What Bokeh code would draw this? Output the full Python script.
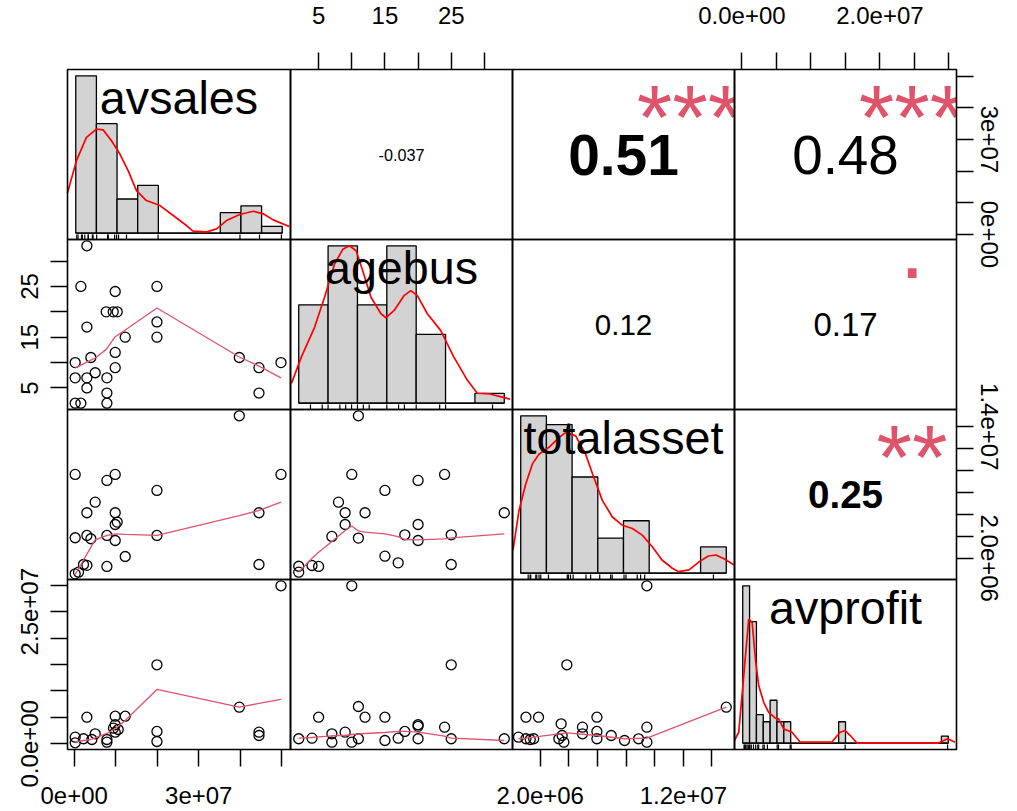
import numpy as np
from bokeh.plotting import figure
from bokeh.models import Range1d, LinearAxis, FixedTicker
from bokeh.core.properties import value
from bokeh.embed import file_html
from bokeh.resources import INLINE

M = 1_000_000

var_names = ["avsales", "agebus", "totalasset", "avprofit"]

# data range (min, max) of each variable
avsales_lim = (0.38 * M, 50.1 * M)
agebus_lim = (2, 33)
totalasset_lim = (0.635 * M, 15.0 * M)
avprofit_lim = (0.11 * M, 29.9 * M)

# observed distinct values (rug marks)
avsales_vals = [0.24, 0.56, 1.39, 1.61, 2.18, 2.98, 3.06, 4.02, 4.19, 5.06, 7.71, 7.88, 9.4, 9.88,
                10.36, 12.29, 19.93, 39.76, 44.5, 49.8]
agebus_vals = [2, 4, 5, 7, 8, 9, 10, 11, 12, 15, 17, 18, 20, 24, 25, 33]
totalasset_vals = [0.58, 0.73, 0.78, 1.17, 1.25, 1.43, 1.56, 2.16, 3.62, 3.71, 3.87, 4.08, 5.08, 5.44,
                   6.15, 7.0, 7.12, 8.04, 8.19, 9.07, 9.33, 9.65, 15.0]
avprofit_vals = [0.19, 0.3, 0.43, 0.62, 0.81, 0.95, 1.06, 1.25, 1.57, 1.89, 2.2, 2.33, 2.95, 3.14, 3.6,
                 5.03, 5.22, 6.93, 7.06, 14.95, 29.9]

# histograms (breaks start, step) and counts per bin
avsales_breaks = (0, 5)
avsales_counts = [23, 16, 5, 7, 0, 0, 0, 3, 4, 1]
agebus_breaks = (0, 5)
agebus_counts = [10, 16, 10, 16, 7, 0, 1]
totalasset_breaks = (0, 2)
totalasset_counts = [18, 17, 11, 4, 6, 0, 0, 3]
avprofit_breaks = (0, 1)
avprofit_counts = [22, 17, 4, 3, 6, 3, 3, 0, 0, 0, 0, 0, 0, 0, 3,
                   0, 0, 0, 0, 0, 0, 0, 0, 0, 0, 0, 0, 0, 0, 1]

# density curves (x, height in count units)
avsales_dens_x = [-2.0, 0.17, 2.59, 5.02, 6.62, 8.65, 10.66, 12.68, 14.7, 17.1, 20.4, 23.6, 26.8, 28.4,
                  31.7, 34.1, 36.5, 39.7, 42.97, 45.4, 47.8, 51.7]
avsales_dens_y = [5.9, 10.6, 14.0, 15.2, 15.1, 13.5, 11.6, 9.15, 6.23, 4.77, 4.04, 2.58, 1.12, 0.29,
                  0.2, 0.64, 1.85, 2.73, 3.21, 2.83, 1.95, 0.98]
agebus_dens_x = [-1.24, 0.46, 2.71, 4.4, 6.1, 7.52, 8.64, 9.77, 10.9, 12.3, 14.0, 14.85, 16.25, 17.95,
                 19.08, 20.2, 21.9, 24.16, 26.4, 28.7, 30.4, 32.6, 34.3, 36.0]
agebus_dens_y = [2.02, 4.71, 7.74, 10.77, 14.14, 15.66, 16.0, 15.5, 13.46, 10.77, 9.09, 8.69, 9.43, 10.94,
                 11.44, 10.94, 9.09, 7.4, 4.71, 2.35, 1.01, 0.94, 0.67, 0.4]
totalasset_dens_x = [-0.6, -0.13, 0.39, 0.91, 1.42, 2.2, 2.98, 3.5, 4.28, 5.05, 5.58, 6.35, 7.13, 7.9,
                     8.69, 9.46, 10.24, 11.0, 11.8, 12.3, 13.1, 13.9, 14.6, 15.2, 15.9, 16.6]
totalasset_dens_y = [2.65, 7.2, 10.2, 12.5, 13.6, 14.4, 15.5, 16.1, 15.7, 13.6, 11.4, 8.33, 6.43, 5.49,
                     5.11, 4.35, 3.02, 1.51, 0.57, 0.18, 0.38, 1.32, 1.97, 2.08, 1.59, 0.94]
avprofit_dens_x = [-1.2, -0.58, 0.15, 0.87, 1.37, 1.85, 2.33, 3.06, 3.79, 4.76, 5.24, 5.97, 7.19, 8.4,
                   13.0, 14.2, 14.96, 15.7, 16.7, 28.5, 29.9, 31.0]
avprofit_dens_y = [0.4, 1.53, 9.44, 17.35, 16.9, 11.8, 8.05, 5.72, 4.32, 3.49, 3.4, 2.0, 1.53, 0.14,
                   0.14, 1.53, 1.77, 1.07, 0.0, 0.0, 0.61, 0.14]

# scatter panels (lower triangle) and their lowess smooth lines
sc21_x = [3.06, 1.61, 9.88, 19.93, 7.71, 9.4, 10.36, 3.06, 12.29, 19.93, 19.93, 9.88, 4.02, 0.24, 0.24,
          3.06, 5.06, 7.88, 9.88, 3.06, 7.88, 7.88, 0.24, 1.61, 39.76, 44.5, 44.5, 49.8]
sc21_y = [33, 25, 24, 25, 20, 20, 20, 17, 15, 18, 15, 12, 11, 10, 7, 7, 8, 7, 9, 5, 4, 2, 2, 2, 11, 9, 4, 10]
sm21_x = [0.24, 1.61, 3.06, 4.02, 5.06, 7.71, 9.88, 12.29, 19.93, 39.76, 44.5, 49.8]
sm21_y = [8.97, 9.5, 10.1, 10.5, 10.9, 12.6, 15.1, 16.4, 20.75, 11.1, 9.3, 7.0]

sc31_x = [39.76, 0.24, 9.88, 7.88, 19.93, 49.8, 5.06, 3.06, 9.88, 9.88, 10.36, 44.5, 0.24, 3.06, 4.02,
          7.88, 9.88, 19.93, 12.29, 7.88, 44.5, 2.24, 3.06, 1.04, 0.24]
sc31_y = [15.0, 9.65, 9.65, 9.1, 8.19, 9.65, 7.12, 6.15, 6.15, 5.08, 5.3, 6.15, 3.87, 4.08, 3.78, 4.08,
          3.62, 4.08, 2.16, 1.25, 1.43, 1.43, 1.35, 0.73, 0.58]
sm31_x = [0.24, 1.61, 3.06, 5.06, 7.88, 9.88, 12.29, 19.93, 39.76, 44.5, 49.8]
sm31_y = [0.52, 1.41, 2.37, 3.68, 4.08, 4.23, 4.17, 4.08, 5.9, 6.36, 7.12]

sc41_x = [49.8, 19.93, 3.06, 9.88, 12.29, 39.76, 9.88, 9.47, 19.93, 19.93, 44.5, 44.5, 0.24, 0.24, 2.24,
          4.27, 5.06, 7.88, 7.88, 9.88, 10.6]
sc41_y = [29.9, 14.95, 5.03, 5.22, 5.22, 6.93, 3.6, 2.95, 2.33, 0.43, 2.2, 1.57, 1.25, 0.19, 0.95, 0.81,
          1.89, 0.81, 0.3, 2.2, 2.7]
sm41_x = [0.24, 1.61, 3.06, 4.02, 5.06, 7.88, 9.88, 12.29, 19.93, 39.76, 44.5, 49.8]
sm41_y = [0.3, 0.53, 0.72, 0.81, 1.1, 1.95, 2.84, 4.41, 10.28, 6.93, 7.63, 8.39]

sc32_x = [11, 10, 20, 24, 15, 8, 9, 12, 33, 9, 7, 11, 18, 20, 20, 25, 15, 17, 25, 2, 2, 4, 5]
sc32_y = [15.0, 9.65, 9.1, 9.65, 8.19, 7.12, 6.15, 6.15, 6.15, 5.08, 3.99, 3.84, 4.14, 5.08, 3.62, 4.14,
          2.19, 1.58, 1.43, 1.27, 0.73, 1.34, 1.25]
sm32_x = [2, 4, 5, 7, 8, 9, 10, 11, 12, 15, 17, 18, 20, 24, 25, 33]
sm32_y = [0.73, 2.0, 2.54, 3.53, 4.03, 4.53, 4.95, 4.49, 4.38, 4.23, 3.98, 3.71, 3.68, 3.76, 3.85, 4.23]

sc42_x = [10, 25, 5, 11, 12, 15, 20, 24, 18, 9, 7, 11, 10, 15, 17, 20, 25, 33, 2, 4, 7, 20]
sc42_y = [29.9, 14.95, 5.03, 7.06, 5.03, 5.03, 3.6, 3.14, 2.33, 2.2, 1.89, 0.95, 0.3, 0.62, 1.06, 0.95,
          0.95, 0.95, 0.95, 1.06, 0.3, 3.3]
sm42_x = [2, 4, 5, 7, 8, 9, 10, 11, 12, 15, 17, 18, 20, 24, 25, 33]
sm42_y = [1.06, 1.19, 1.29, 1.48, 1.57, 1.57, 1.76, 1.85, 1.95, 2.14, 2.33, 2.33, 2.2, 1.44, 1.06, 0.62]

sc43_x = [9.45, 3.86, 15.0, 1.0, 1.88, 5.96, 9.45, 3.46, 4.95, 4.95, 5.96, 6.96, 5.96, 7.89, 8.87, 9.45,
          0.48, 1.0, 1.3, 1.54, 3.3, 3.53, 3.65]
sc43_y = [29.9, 14.95, 6.93, 5.03, 5.03, 5.03, 3.14, 3.78, 3.14, 1.89, 2.33, 1.57, 0.95, 0.62, 0.95, 0.3,
          1.25, 0.95, 0.81, 0.95, 0.95, 1.57, 0.3]
sm43_x = [0.48, 1.0, 3.86, 5.96, 7.89, 9.45, 15.0]
sm43_y = [0.95, 1.06, 2.08, 1.57, 0.95, 1.06, 6.93]

# upper panels: correlation text and significance stars
cor_text = {(0, 1): "-0.037", (0, 2): "0.51", (0, 3): "0.48", (1, 2): "0.12", (1, 3): "0.17", (2, 3): "0.25"}
cor_abs = {(0, 1): 0.037, (0, 2): 0.51, (0, 3): 0.48, (1, 2): 0.12, (1, 3): 0.17, (2, 3): 0.25}
cor_stars = {(0, 1): "", (0, 2): "***", (0, 3): "***", (1, 2): "", (1, 3): ".", (2, 3): "**"}
cor_heavy = {(0, 2), (2, 3)}

# axes tick values and labels
avsales_ticks = [0, 10 * M, 20 * M, 30 * M, 40 * M, 50 * M]
avsales_ticklab = ["0e+00", "", "", "3e+07", "", ""]
agebus_ticks = [5, 10, 15, 20, 25, 30]
agebus_ticklab = ["5", "", "15", "", "25", ""]
totalasset_ticks = [2 * M, 4 * M, 6 * M, 8 * M, 10 * M, 12 * M, 14 * M]
totalasset_ticklab_bottom = ["2.0e+06", "", "", "", "", "1.2e+07", ""]
totalasset_ticklab_right = ["2.0e+06", "", "", "", "", "", "1.4e+07"]
avprofit_ticks = [0, 5 * M, 10 * M, 15 * M, 20 * M, 25 * M, 30 * M]
avprofit_ticklab_top = ["0.0e+00", "", "", "", "2.0e+07", "", ""]
avprofit_ticklab_left = ["0.0e+00", "", "", "", "", "2.5e+07", ""]

# ---------------------------------------------------------------- layout
W, H = 1017, 811
COL_EDGES = [67, 290, 512, 734, 956]     # panel column edges (px from left)
ROW_EDGES = [69, 239, 409, 579, 749]     # panel row edges (px from top)
FONT = "Liberation Sans"
TICKSIZE = "24px"
RED2 = "#DF536B"

lims = [avsales_lim, agebus_lim, totalasset_lim, avprofit_lim]
scale = [M, 1, M, M]


def usr(lo, hi):
    d = hi - lo
    return (lo - 0.04 * d, hi + 0.04 * d)


def col_range(lo, hi, j):
    a, b = COL_EDGES[j], COL_EDGES[j + 1]
    k = (hi - lo) / (b - a)
    return Range1d(lo - a * k, lo + (W - a) * k)


def row_range(lo, hi, i):
    a, b = H - ROW_EDGES[i + 1], H - ROW_EDGES[i]
    k = (hi - lo) / (b - a)
    return Range1d(lo - a * k, lo + (H - a) * k)


p = figure(width=W, height=H, x_range=Range1d(0, 1), y_range=Range1d(0, 1),
           output_backend="svg", toolbar_location=None, tools="",
           x_axis_location=None, y_axis_location=None, min_border=0,
           outline_line_color=None, background_fill_color="white", border_fill_color="white")
p.grid.visible = False

pair_rng = [usr(*l) for l in lims]
xr, yr = {}, {}
for k in range(4):
    xr[f"cx{k}"] = col_range(*pair_rng[k], k)
    yr[f"ry{k}"] = row_range(*pair_rng[k], k)
    xr[f"ux{k}"] = col_range(0, 1, k)
    yr[f"uy{k}"] = row_range(0, 1, k)

vals = [avsales_vals, agebus_vals, totalasset_vals, avprofit_vals]
breaks = [avsales_breaks, agebus_breaks, totalasset_breaks, avprofit_breaks]
counts = [avsales_counts, agebus_counts, totalasset_counts, avprofit_counts]
dens_x = [avsales_dens_x, agebus_dens_x, totalasset_dens_x, avprofit_dens_x]
dens_y = [avsales_dens_y, agebus_dens_y, totalasset_dens_y, avprofit_dens_y]

hist_info = []
for k in range(4):
    b0, step = breaks[k]
    nb = len(counts[k])
    edges = [(b0 + step * n) * scale[k] for n in range(nb + 1)]
    hx = usr(edges[0], edges[-1])
    hy = usr(0, max(counts[k]))
    xr[f"hx{k}"] = col_range(*hx, k)
    yr[f"hy{k}"] = row_range(*hy, k)
    hist_info.append((edges, hx, hy))

p.extra_x_ranges = xr
p.extra_y_ranges = yr

# ---- diagonal: histogram, density, rug, variable name
LABEL_SIZE = 46.7
for k in range(4):
    edges, hx, hy = hist_info[k]
    rn = dict(x_range_name=f"hx{k}", y_range_name=f"hy{k}")
    p.quad(left=edges[:-1], right=edges[1:], bottom=0, top=counts[k],
           fill_color="#D3D3D3", line_color="black", line_width=1.3, **rn)
    p.segment(x0=[edges[0]], x1=[edges[-1]], y0=[0], y1=[0], line_color="black", line_width=1.3, **rn)
    p.line([v * scale[k] for v in dens_x[k]], dens_y[k], line_color="red", line_width=1.7, **rn)
    rv = [v * scale[k] for v in vals[k]]
    p.segment(x0=rv, x1=rv, y0=[hy[0]] * len(rv), y1=[hy[0] + 0.03 * (hy[1] - hy[0])] * len(rv),
              line_color="black", line_width=1.2, **rn)
    p.text(x=[(hx[0] + hx[1]) / 2], y=[hy[0] + (0.5 + 1 / 3) * (hy[1] - hy[0])], text=[var_names[k]],
           text_font=value(FONT), text_font_size=f"{LABEL_SIZE}px", text_align="center",
           text_baseline="middle", text_color="black", **rn)

# ---- lower triangle: scatter + smooth
lower = {(1, 0): (sc21_x, sc21_y, sm21_x, sm21_y), (2, 0): (sc31_x, sc31_y, sm31_x, sm31_y),
         (3, 0): (sc41_x, sc41_y, sm41_x, sm41_y), (2, 1): (sc32_x, sc32_y, sm32_x, sm32_y),
         (3, 1): (sc42_x, sc42_y, sm42_x, sm42_y), (3, 2): (sc43_x, sc43_y, sm43_x, sm43_y)}
for (i, j), (xs, ys, smx, smy) in lower.items():
    rn = dict(x_range_name=f"cx{j}", y_range_name=f"ry{i}")
    p.scatter([v * scale[j] for v in xs], [v * scale[i] for v in ys], marker="circle", size=10,
              fill_color=None, line_color="black", line_width=1.3, **rn)
    p.line([v * scale[j] for v in smx], [v * scale[i] for v in smy], line_color=RED2, line_width=1.3, **rn)

# ---- upper triangle: correlation value + stars
FULL_NUM = 0.8 * 222 / 1.946      # cex for "0.xx" strings
FULL_NEG = 0.8 * 222 / 2.835      # cex for "-0.037"
for (i, j), txt in cor_text.items():
    rn = dict(x_range_name=f"ux{j}", y_range_name=f"uy{i}")
    full = FULL_NEG if txt.startswith("-") else FULL_NUM
    size = full * (cor_abs[(i, j)] + 0.3) / 1.3
    p.text(x=[0.5], y=[0.5], text=[txt], text_font=value(FONT), text_font_size=f"{size:.1f}px",
           text_font_style="bold" if (i, j) in cor_heavy else "normal",
           text_align="center", text_baseline="middle", text_color="black", **rn)
    st = cor_stars[(i, j)]
    if st:
        off = -0.3 * full if st == "." else 0.15 * full
        p.text(x=[0.8], y=[0.8], text=[st], text_font=value(FONT), text_font_size=f"{full:.1f}px",
               text_align="center", text_baseline="middle", y_offset=off, text_color=RED2, **rn)

# white masks emulating the clipping of the stars at their panel edge
p.quad(left=[1], right=[1.06], bottom=[0.6], top=[0.98], fill_color="white", line_color=None,
       x_range_name="ux2", y_range_name="uy0")
p.quad(left=[1], right=[1.08], bottom=[0.6], top=[0.98], fill_color="white", line_color=None,
       x_range_name="ux3", y_range_name="uy0")

# ---- panel boxes
for i in range(4):
    for j in range(4):
        p.quad(left=[0], right=[1], bottom=[0], top=[1], fill_color=None, line_color="black",
               line_width=1.6, x_range_name=f"ux{j}", y_range_name=f"uy{i}")


# ---- axes (outer margins, alternating like pairs())
def add_axis(side, xname, yname, loc, ticks, labels):
    ax = LinearAxis(x_range_name=xname, y_range_name=yname, fixed_location=loc,
                    ticker=FixedTicker(ticks=ticks, minor_ticks=[]),
                    major_label_overrides=dict(zip(ticks, labels)))
    ax.axis_line_color = None
    ax.major_tick_out = 17
    ax.major_tick_in = 0
    ax.minor_tick_out = 0
    ax.minor_tick_in = 0
    ax.major_tick_line_color = "black"
    ax.major_tick_line_width = 1.5
    ax.major_label_text_font = FONT
    ax.major_label_text_font_size = TICKSIZE
    ax.major_label_text_color = "black"
    if side in ("left", "right"):
        ax.major_label_orientation = "vertical"
        ax.major_label_standoff = 12 if side == "left" else 7
    else:
        ax.major_label_standoff = 29 if side == "above" else 20
    p.add_layout(ax, side)


add_axis("above", "cx1", "uy0", 1, agebus_ticks, agebus_ticklab)
add_axis("above", "cx3", "uy0", 1, avprofit_ticks, avprofit_ticklab_top)
add_axis("right", "ux3", "ry0", 1, avsales_ticks, avsales_ticklab)
add_axis("right", "ux3", "ry2", 1, totalasset_ticks, totalasset_ticklab_right)
add_axis("left", "ux0", "ry1", 0, agebus_ticks, agebus_ticklab)
add_axis("left", "ux0", "ry3", 0, avprofit_ticks, avprofit_ticklab_left)
add_axis("below", "cx0", "uy3", 0, avsales_ticks, avsales_ticklab)
add_axis("below", "cx2", "uy3", 0, totalasset_ticks, totalasset_ticklab_bottom)

open("out.html", "w").write(file_html(p, INLINE))
